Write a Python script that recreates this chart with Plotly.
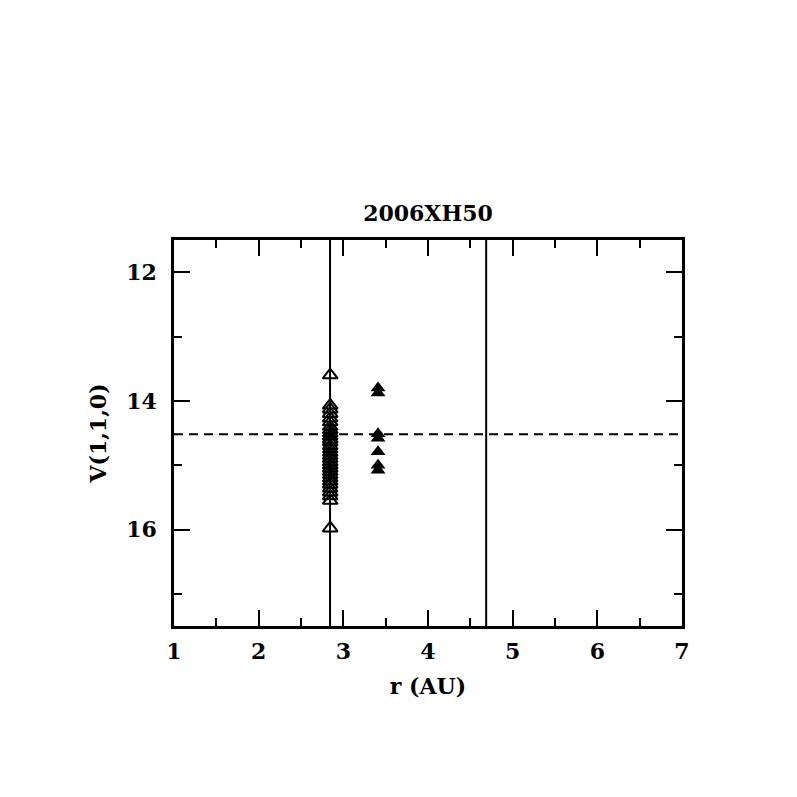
import plotly.graph_objects as go

# ---- data ----
open_r = [2.845] * 30
open_v = [13.60, 14.07, 14.13, 14.20, 14.27, 14.33, 14.40, 14.45, 14.50, 14.55,
          14.60, 14.64, 14.70, 14.75, 14.80, 14.85, 14.90, 14.95, 15.00, 15.05,
          15.10, 15.15, 15.20, 15.25, 15.30, 15.36, 15.42, 15.48, 15.55, 15.98]
filled_r = [3.41] * 7
filled_v = [13.80, 13.88, 14.51, 14.58, 14.79, 15.00, 15.08]
vlines_r = [2.843, 4.687]
hline_v = 14.52
x_range = [1, 7]
y_range = [17.5, 11.5]
x_ticks = [1, 2, 3, 4, 5, 6, 7]
y_ticks = [12, 14, 16]
title_text = "2006XH50"
x_title = "r (AU)"
y_title = "V(1,1,0)"

FONT = "DejaVu Serif"
FSIZE = 22

fig = go.Figure()

# vertical lines
for xv in vlines_r:
    fig.add_trace(go.Scatter(x=[xv, xv], y=y_range, mode="lines",
                             line=dict(color="black", width=2), showlegend=False,
                             hoverinfo="skip"))
# dashed horizontal line
fig.add_trace(go.Scatter(x=x_range, y=[hline_v, hline_v], mode="lines",
                         line=dict(color="black", width=2, dash="9px,6px"),
                         showlegend=False, hoverinfo="skip"))

fig.add_trace(go.Scatter(x=open_r, y=open_v, mode="markers",
                         marker=dict(symbol="triangle-up-open", size=13, color="black",
                                     line=dict(color="black", width=2)),
                         showlegend=False))
fig.add_trace(go.Scatter(x=filled_r, y=filled_v, mode="markers",
                         marker=dict(symbol="triangle-up", size=13, color="black",
                                     line=dict(color="black", width=0)),
                         showlegend=False))

tfont = dict(family=FONT, size=FSIZE, color="black", weight="bold")

axis_common = dict(showline=True, linecolor="black", linewidth=2.5, mirror="ticks",
                   ticks="inside", tickcolor="black", tickwidth=2, ticklen=16,
                   showgrid=False, zeroline=False,
                   tickfont=tfont, title_font=tfont)

fig.update_xaxes(range=x_range, tickvals=x_ticks, ticktext=[str(t) for t in x_ticks],
                 minor=dict(dtick=0.5, tick0=1, ticks="inside", ticklen=8, tickwidth=2,
                            tickcolor="black", showgrid=False),
                 title_text=x_title, title_standoff=16, ticklabelstandoff=4,
                 **axis_common)
fig.update_yaxes(range=y_range, tickvals=y_ticks, ticktext=[str(t) for t in y_ticks],
                 minor=dict(dtick=1, tick0=12, ticks="inside", ticklen=8, tickwidth=2,
                            tickcolor="black", showgrid=False),
                 title_text=y_title, title_standoff=14, ticklabelstandoff=10,
                 **axis_common)

fig.update_layout(
    width=797, height=797,
    margin=dict(l=166, r=123, t=232, b=179, pad=0),
    plot_bgcolor="white", paper_bgcolor="white",
    title=dict(text=title_text, x=(166 + 166 + 508) / 2 / 797, xanchor="center",
               y=1 - 205 / 797, yanchor="middle",
               font=tfont),
)

fig.write_html("out.html")
